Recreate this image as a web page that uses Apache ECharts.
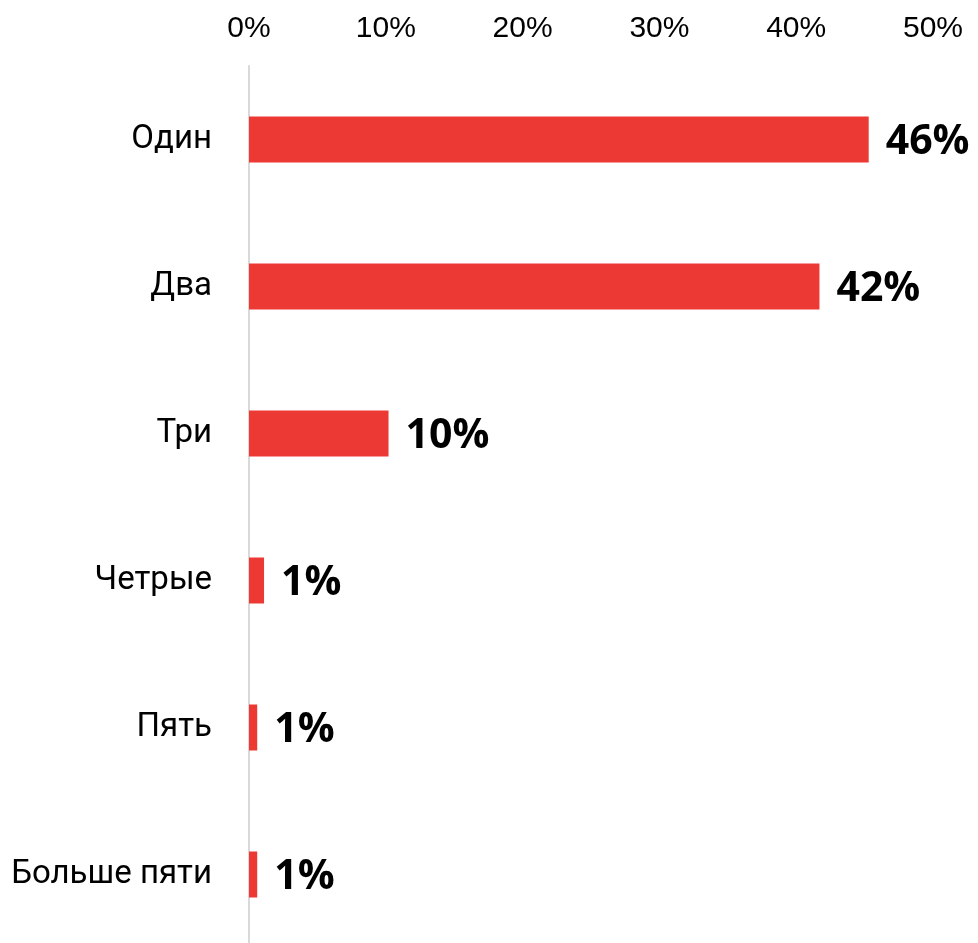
<!DOCTYPE html>
<html>
<head>
<meta charset="utf-8">
<script src="https://cdn.jsdelivr.net/npm/echarts@6/dist/echarts.min.js"></script>
<style>
html,body{margin:0;padding:0;background:#fff;overflow:hidden;}
#wrap{width:978px;height:943px;overflow:hidden;}
#chart{width:978px;height:948px;}
</style>
</head>
<body>
<div id="wrap"><div id="chart"></div></div>
<script>
const categories = ['Один', 'Два', 'Три', 'Четрые', 'Пять', 'Больше пяти'];
const values = [45.3, 41.7, 10.2, 1.1, 0.6, 0.6];
const valueLabels = ['46%', '42%', '10%', '1%', '1%', '1%'];
const axisMin = 0, axisMax = 50, axisStep = 10;

const chart = echarts.init(document.getElementById('chart'));
chart.setOption({
  animation: false,
  backgroundColor: '#ffffff',
  grid: { left: 249, right: 45, top: 66, bottom: 0, containLabel: false },
  xAxis: {
    type: 'value', position: 'top', min: axisMin, max: axisMax, interval: axisStep,
    axisLine: { show: false }, axisTick: { show: false }, splitLine: { show: false },
    axisLabel: { formatter: '{value}%', color: '#000', fontFamily: 'Liberation Sans', fontSize: 30, margin: 22 }
  },
  yAxis: {
    type: 'category', data: categories, inverse: true,
    axisLine: { show: true, lineStyle: { color: '#d9d9d9', width: 2 } },
    axisTick: { show: false },
    axisLabel: { color: '#000', fontFamily: 'Roboto', fontSize: 33, margin: 37, padding: [4, 0, 0, 0] }
  },
  series: [{
    type: 'bar', data: values, barWidth: 46,
    itemStyle: { color: '#ED3934' },
    label: {
      show: true, position: 'right', distance: 17, offset: [0, 3],
      formatter: p => valueLabels[p.dataIndex],
      color: '#000', fontFamily: 'Open Sans', fontWeight: 'bold', fontSize: 41
    }
  }]
});
</script>
</body>
</html>
